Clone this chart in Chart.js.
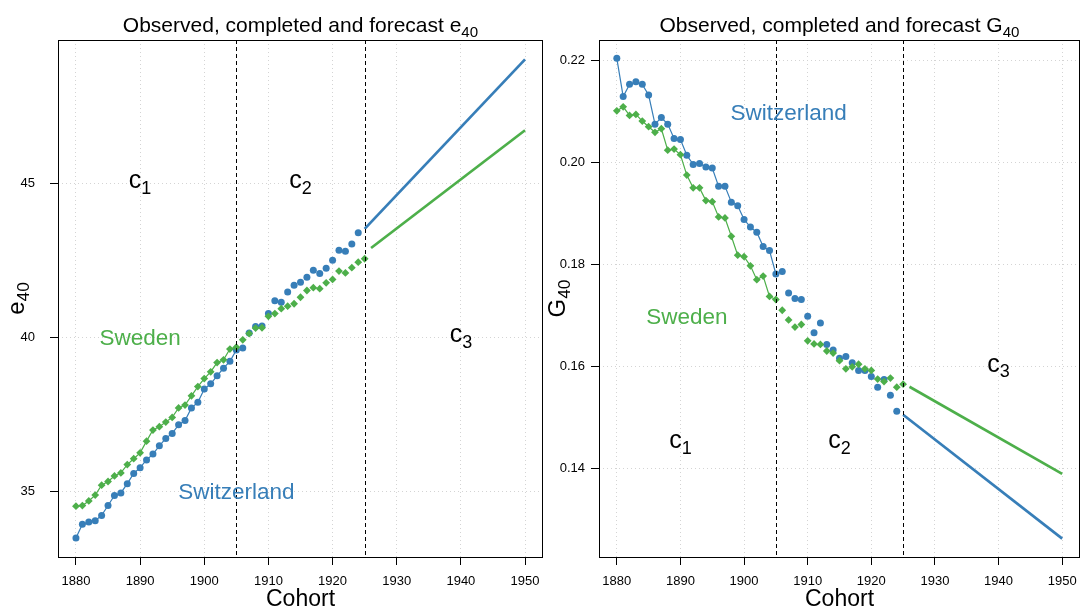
<!DOCTYPE html>
<html>
<head>
<meta charset="utf-8">
<script src="https://cdn.jsdelivr.net/npm/chart.js@4.4.1/dist/chart.umd.min.js"></script>
<style>
  html, body { margin: 0; padding: 0; background: #ffffff; }
  #wrap { position: relative; width: 1081px; height: 608px; overflow: hidden; }
  canvas { position: absolute; top: 0; }
  #leftPanel { left: 0; }
  #rightPanel { left: 548px; }
</style>
</head>
<body>
<div id="wrap">
  <canvas id="leftPanel" width="548" height="608"></canvas>
  <canvas id="rightPanel" width="538" height="608"></canvas>
</div>
<script>
// Birth cohorts with observed (to 1905) and completed (1906 onward) values
const cohorts = [1880, 1881, 1882, 1883, 1884, 1885, 1886, 1887, 1888, 1889,
                 1890, 1891, 1892, 1893, 1894, 1895, 1896, 1897, 1898, 1899,
                 1900, 1901, 1902, 1903, 1904, 1905, 1906, 1907, 1908, 1909,
                 1910, 1911, 1912, 1913, 1914, 1915, 1916, 1917, 1918, 1919,
                 1920, 1921, 1922, 1923, 1924, 1925];
const lastObservedCohort = 1905;
const periodBreaks = [1905, 1925];

// Life expectancy at age 40
const switzerlandE40 = [33.49, 33.93, 34.01, 34.05, 34.22, 34.54, 34.87, 34.95, 35.25, 35.58,
                        35.77, 36.02, 36.21, 36.48, 36.72, 36.88, 37.16, 37.30, 37.71, 37.89,
                        38.32, 38.49, 38.75, 39.00, 39.22, 39.59, 39.65, 40.14, 40.35, 40.37,
                        40.77, 41.19, 41.14, 41.47, 41.69, 41.79, 41.95, 42.18, 42.07, 42.24,
                        42.50, 42.83, 42.79, 43.03, 43.39, null];
const swedenE40 = [34.52, 34.54, 34.69, 34.88, 35.20, 35.32, 35.50, 35.60, 35.87, 36.06,
                   36.25, 36.63, 36.99, 37.10, 37.25, 37.40, 37.71, 37.80, 38.10, 38.40,
                   38.66, 38.88, 39.18, 39.27, 39.62, 39.68, 39.92, 40.12, 40.30, 40.31,
                   40.68, 40.77, 40.93, 41.01, 41.09, 41.30, 41.52, 41.61, 41.58, 41.77,
                   41.88, 42.15, 42.09, 42.26, 42.44, 42.55];

// Gini coefficient of lifespan at age 40
const switzerlandG40 = [0.2205, 0.2130, 0.2154, 0.2159, 0.2154, 0.2133, 0.2076, 0.2089, 0.2076, 0.2048,
                        0.2046, 0.2015, 0.1997, 0.1999, 0.1992, 0.1990, 0.1954, 0.1954, 0.1923, 0.1916,
                        0.1889, 0.1874, 0.1864, 0.1836, 0.1828, 0.1782, 0.1787, 0.1745, 0.1734, 0.1732,
                        0.1699, 0.1667, 0.1686, 0.1644, 0.1633, 0.1617, 0.1620, 0.1608, 0.1593, 0.1593,
                        0.1581, 0.1560, 0.1575, 0.1544, 0.1513, null];
const swedenG40 = [0.2102, 0.2110, 0.2093, 0.2095, 0.2082, 0.2071, 0.2060, 0.2067, 0.2025, 0.2027,
                   0.2016, 0.1976, 0.1951, 0.1951, 0.1926, 0.1924, 0.1894, 0.1892, 0.1856, 0.1819,
                   0.1816, 0.1798, 0.1771, 0.1778, 0.1738, 0.1732, 0.1711, 0.1692, 0.1678, 0.1683,
                   0.1651, 0.1645, 0.1644, 0.1631, 0.1627, 0.1612, 0.1596, 0.1600, 0.1605, 0.1596,
                   0.1593, 0.1576, 0.1571, 0.1578, 0.1560, 0.1566];

// Forecast paths
const switzerlandForecastCohorts = [1925, 1950];
const swedenForecastCohorts = [1926, 1950];
const switzerlandE40Forecast = [43.52, 49.02];
const swedenE40Forecast = [42.90, 46.72];
const switzerlandG40Forecast = [0.1506, 0.1263];
const swedenG40Forecast = [0.1561, 0.1390];

// Axis ticks
const cohortTicks = [1880, 1890, 1900, 1910, 1920, 1930, 1940, 1950];
const e40Ticks = [35, 40, 45];
const g40Ticks = [0.14, 0.16, 0.18, 0.20, 0.22];

const BLUE = '#377EB8';
const GREEN = '#4DAF4A';
const FONT = "'Liberation Sans', Arial, Helvetica, sans-serif";

Chart.defaults.font.family = FONT;
Chart.defaults.color = '#000';

function toPoints(xs, ys, keep) {
  const out = [];
  xs.forEach((x, i) => {
    if (ys[i] !== null && ys[i] !== undefined && (!keep || keep(x))) out.push({ x: x, y: ys[i] });
  });
  return out;
}

function seriesDatasets(values, forecastX, forecastY, color, style, order) {
  const markerRadius = style === 'rectRot' ? 3.9 : 3.5;
  const marker = {
    pointStyle: style, pointRadius: markerRadius, pointBorderWidth: 0,
    pointBackgroundColor: color, pointBorderColor: color, pointHoverRadius: markerRadius
  };
  return [
    Object.assign({
      data: toPoints(cohorts, values, x => x <= lastObservedCohort),
      borderColor: color, borderWidth: 1.2, showLine: true, order: order
    }, marker),
    Object.assign({
      data: toPoints(cohorts, values, x => x > lastObservedCohort),
      borderColor: color, showLine: false, order: order
    }, marker),
    {
      data: toPoints(forecastX, forecastY),
      borderColor: color, borderWidth: 2.7, showLine: true, pointRadius: 0, order: order
    }
  ];
}

// Text with a subscript, centred on x at baseline y
function drawSubText(ctx, x, y, base, sub, size, color) {
  ctx.save();
  ctx.fillStyle = color;
  ctx.textBaseline = 'alphabetic';
  ctx.textAlign = 'left';
  ctx.font = size + 'px ' + FONT;
  const bw = ctx.measureText(base).width;
  const subSize = size * 0.72;
  ctx.font = subSize + 'px ' + FONT;
  const sw = sub ? ctx.measureText(sub).width : 0;
  const start = x - (bw + sw) / 2;
  ctx.font = size + 'px ' + FONT;
  ctx.fillText(base, start, y);
  if (sub) {
    ctx.font = subSize + 'px ' + FONT;
    ctx.fillText(sub, start + bw, y + size * 0.22);
  }
  ctx.restore();
}

function panelDecor(cfg) {
  return {
    id: 'panelDecor',
    afterDatasetsDraw(chart) {
      const ctx = chart.ctx;
      const a = chart.chartArea;
      const xs = chart.scales.x, ys = chart.scales.y;
      // period separators
      ctx.save();
      ctx.strokeStyle = '#000';
      ctx.lineWidth = 1;
      ctx.setLineDash([4, 3]);
      periodBreaks.forEach(v => {
        const px = Math.round(xs.getPixelForValue(v)) + 0.5;
        ctx.beginPath();
        ctx.moveTo(px, a.top);
        ctx.lineTo(px, a.bottom);
        ctx.stroke();
      });
      ctx.restore();
      // frame
      ctx.save();
      ctx.strokeStyle = '#000';
      ctx.lineWidth = 1;
      ctx.strokeRect(Math.round(a.left) + 0.5, Math.round(a.top) + 0.5,
                     Math.round(a.right - a.left) - 1, Math.round(a.bottom - a.top));
      ctx.restore();
      // in-plot labels
      cfg.labels.forEach(l => {
        const shift = l.sub ? 0.2 : 0.36;
        drawSubText(ctx, xs.getPixelForValue(l.x), ys.getPixelForValue(l.y) + l.size * shift,
                    l.text, l.sub, l.size, l.color);
      });
    },
    afterDraw(chart) {
      const ctx = chart.ctx;
      const a = chart.chartArea;
      const cx = (a.left + a.right) / 2;
      drawSubText(ctx, cx, 32, cfg.title, cfg.titleSub, 21, '#000');
      drawSubText(ctx, cx, 606, 'Cohort', '', 23, '#000');
      ctx.save();
      ctx.translate(cfg.yTitleX, (a.top + a.bottom) / 2);
      ctx.rotate(-Math.PI / 2);
      drawSubText(ctx, 0, 0, cfg.yTitle, cfg.yTitleSub, 24, '#000');
      ctx.restore();
    }
  };
}

function makePanel(id, cfg) {
  const datasets = []
    .concat(seriesDatasets(cfg.swiss, switzerlandForecastCohorts, cfg.swissForecast, BLUE, 'circle', 2))
    .concat(seriesDatasets(cfg.sweden, swedenForecastCohorts, cfg.swedenForecast, GREEN, 'rectRot', 1));
  return new Chart(document.getElementById(id), {
    type: 'scatter',
    data: { datasets: datasets },
    options: {
      responsive: false,
      animation: false,
      devicePixelRatio: 1,
      events: [],
      layout: { padding: { top: 40, right: cfg.padRight, left: 0, bottom: 0 } },
      plugins: { legend: { display: false }, tooltip: { enabled: false }, title: { display: false } },
      scales: {
        x: {
          type: 'linear', min: 1877.2, max: 1952.8,
          afterBuildTicks: s => { s.ticks = cohortTicks.map(v => ({ value: v })); },
          afterFit: s => { s.height = 51; },
          ticks: { font: { size: 13, lineHeight: 2.6 }, color: '#000', padding: 0,
                   maxRotation: 0, autoSkip: false, callback: v => String(v) },
          grid: { color: '#d4d4d4', lineWidth: 1, tickLength: 8, tickColor: '#000', tickWidth: 1 },
          border: { display: false, dash: [1, 3] }
        },
        y: {
          type: 'linear', min: cfg.yMin, max: cfg.yMax,
          afterBuildTicks: s => { s.ticks = cfg.yTicks.map(v => ({ value: v })); },
          afterFit: s => { s.width = cfg.yWidth; },
          ticks: {
            font: { size: 13 }, color: '#000', padding: cfg.yPad, crossAlign: 'center',
            callback: cfg.tickFmt
          },
          grid: { color: '#d4d4d4', lineWidth: 1, tickLength: 8, tickColor: '#000', tickWidth: 1 },
          border: { display: false, dash: [1, 3] }
        }
      }
    },
    plugins: [panelDecor(cfg)]
  });
}

makePanel('leftPanel', {
  swiss: switzerlandE40, sweden: swedenE40,
  swissForecast: switzerlandE40Forecast, swedenForecast: swedenE40Forecast,
  yMin: 32.87, yMax: 49.65, yTicks: e40Ticks, yWidth: 58, yPad: 15, padRight: 5,
  tickFmt: v => String(v),
  title: 'Observed, completed and forecast e', titleSub: '40',
  yTitle: 'e', yTitleSub: '40', yTitleX: 24,
  labels: [
    { x: 1890, y: 45, text: 'c', sub: '1', size: 25, color: '#000' },
    { x: 1915, y: 45, text: 'c', sub: '2', size: 25, color: '#000' },
    { x: 1940, y: 40, text: 'c', sub: '3', size: 25, color: '#000' },
    { x: 1890, y: 40, text: 'Sweden', sub: '', size: 22.5, color: GREEN },
    { x: 1905, y: 35, text: 'Switzerland', sub: '', size: 22.5, color: BLUE }
  ]
});

makePanel('rightPanel', {
  swiss: switzerlandG40, sweden: swedenG40,
  swissForecast: switzerlandG40Forecast, swedenForecast: swedenG40Forecast,
  yMin: 0.1227, yMax: 0.2241, yTicks: g40Ticks, yWidth: 51, yPad: 6, padRight: 6,
  tickFmt: v => v.toFixed(2),
  title: 'Observed, completed and forecast G', titleSub: '40',
  yTitle: 'G', yTitleSub: '40', yTitleX: 17,
  labels: [
    { x: 1890, y: 0.145, text: 'c', sub: '1', size: 25, color: '#000' },
    { x: 1915, y: 0.145, text: 'c', sub: '2', size: 25, color: '#000' },
    { x: 1940, y: 0.16, text: 'c', sub: '3', size: 25, color: '#000' },
    { x: 1891, y: 0.17, text: 'Sweden', sub: '', size: 22.5, color: GREEN },
    { x: 1907, y: 0.21, text: 'Switzerland', sub: '', size: 22.5, color: BLUE }
  ]
});
</script>
</body>
</html>
